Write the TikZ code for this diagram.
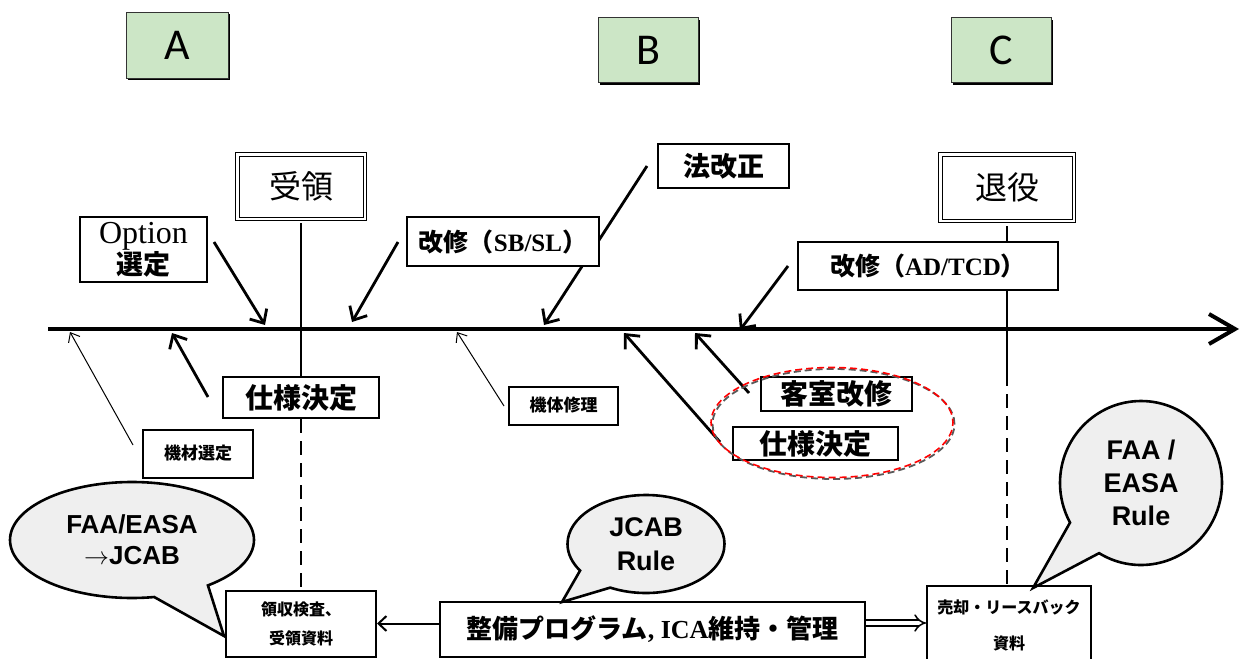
\documentclass[tikz,border=0pt]{standalone}
\usepackage{fontspec}
\setmainfont{Liberation Serif}
\newfontfamily\jpf{Noto Sans CJK JP}
\newfontfamily\arf{Liberation Sans}
\newfontfamily\lblf{Carlito}
\usetikzlibrary{arrows.meta,shapes.geometric,shapes.callouts,shadows}
\definecolor{boxgreen}{RGB}{204,230,198}
\definecolor{bubblegray}{RGB}{239,239,239}
\newcommand\fsz[2]{\fontsize{#1}{#2}\selectfont}
\begin{document}
\begin{tikzpicture}[x=1pt,y=-1pt,
  greenbox/.style={draw=black!80, line width=0.8pt, fill=boxgreen, inner sep=0pt,
    minimum width=100pt, minimum height=65pt, font=\lblf\fsz{44}{44},
    drop shadow={shadow xshift=2.2pt, shadow yshift=-2.2pt, opacity=1, fill=black}},
  dblbox/.style={draw, double, double distance=2.5pt, line width=1pt, fill=white, inner sep=0pt},
  thickbox/.style={draw, line width=2.6pt, fill=white, inner sep=0pt},
  midbox/.style={draw, line width=2pt, fill=white, inner sep=0pt},
  thinbox/.style={draw, line width=1.2pt, fill=white, inner sep=0pt},
  arr/.style={line width=2.8pt, -{Straight Barb[length=11pt,width=20pt]}},
  thinarr/.style={line width=1pt, -{Straight Barb[length=8pt,width=13pt]}},
  vline/.style={line width=2.6pt},
  dline/.style={line width=2.6pt, dash pattern=on 14pt off 8pt},
  bubble/.style={ellipse callout, draw, line width=2.6pt, fill=bubblegray, inner sep=0pt,
    align=center, font=\arf\bfseries},
]
\useasboundingbox (0,0) rectangle (1243,659);

% green header boxes
\node[greenbox, minimum width=102pt, minimum height=66pt] (A) at (177,45) {A};
\node[greenbox] (B) at (648,50) {B};
\node[greenbox] (C) at (1001,50) {C};

% axis
\coordinate (axL) at (48,329);
\coordinate (axR) at (1239,329);
\draw[line width=4pt, -{Straight Barb[length=26pt,width=30pt]}] (axL) -- (axR);

\coordinate (rv) at (1007,372);

% boxes joined by the vertical lines
\node[dblbox, minimum width=127.5pt, minimum height=64.5pt, font=\jpf\fsz{32}{32}] (recv) at (301,186.5) {受領};
\node[thickbox, minimum width=156pt, minimum height=41pt, font=\jpf\bfseries\fsz{28}{28}] (spec1) at (301,397.5) {仕様決定};
\node[midbox, minimum width=150pt, minimum height=66pt, align=center, font=\jpf\bfseries\fsz{16}{29}] (rcvdoc) at (301,624) {領収検査、\\受領資料};
\node[dblbox, minimum width=133.5pt, minimum height=66.5pt, font=\jpf\fsz{32}{32}] (retire) at (1007,187.5) {退役};
\node[midbox, minimum width=164pt, minimum height=78pt, align=center, font=\jpf\bfseries\fsz{16}{36}] (sale) at (1009,625) {売却・リースバック\\資料};

\draw[vline, shorten <=4pt] (recv.south) -- (spec1.north);
\draw[dline] (spec1.south) -- (rcvdoc.north);
\draw[vline, shorten <=5pt] (retire.south) -- (rv);
\draw[dline] (rv) -- (retire.south |- sale.north);

% arrows into the axis
\coordinate (o1) at (214,242);  \coordinate (o2) at (265,325);
\coordinate (s1) at (398,242);  \coordinate (s2) at (352,322);
\coordinate (l1) at (647,166);  \coordinate (l2) at (544,325);
\coordinate (d1) at (788,266);  \coordinate (d2) at (740,330);
\coordinate (k1) at (133,445);  \coordinate (k2) at (70,332);
\coordinate (p1) at (208,397);  \coordinate (p2) at (172,333);
\coordinate (m1) at (504,406);  \coordinate (m2) at (457,332);
\coordinate (q1) at (720,442);  \coordinate (q2) at (624,333);
\coordinate (c1) at (749,393);  \coordinate (c2) at (695,333);
\draw[arr] (o1) -- (o2);
\draw[arr] (s1) -- (s2);
\draw[arr] (l1) -- (l2);
\draw[arr] (d1) -- (d2);
\draw[thinarr] (k1) -- (k2);
\draw[arr] (p1) -- (p2);
\draw[thinarr] (m1) -- (m2);
\draw[arr] (q1) -- (q2);
\draw[arr] (c1) -- (c2);

% boxes again on top of the lines
\node[dblbox, minimum width=127.5pt, minimum height=64.5pt, font=\jpf\fsz{32}{32}] at (recv) {受領};
\node[thickbox, minimum width=156pt, minimum height=41pt, font=\jpf\bfseries\fsz{28}{28}] at (spec1) {仕様決定};
\node[dblbox, minimum width=133.5pt, minimum height=66.5pt, font=\jpf\fsz{32}{32}] at (retire) {退役};

\node[thickbox, minimum width=127pt, minimum height=65pt, align=center] (option) at (143.5,249.5)
  {{\rmfamily\fsz{32}{28}Option}\\{\jpf\bfseries\fsz{27}{27}選定}};
\node[thickbox, minimum width=192pt, minimum height=49pt] (sbsl) at (503,241.5)
  {{\jpf\bfseries\fsz{25}{25}改修（}{\rmfamily\bfseries\fsz{25}{25}SB/SL}{\jpf\bfseries\fsz{25}{25}）}};
\node[thickbox, minimum width=131pt, minimum height=44pt, font=\jpf\bfseries\fsz{27}{27}] (law) at (723.5,166) {法改正};
\node[thickbox, minimum width=260pt, minimum height=48pt] (adtcd) at (928,266)
  {{\jpf\bfseries\fsz{25}{25}改修（}{\rmfamily\bfseries\fsz{25}{25}AD/TCD}{\jpf\bfseries\fsz{25}{25}）}};

\node[thinbox, minimum width=110pt, minimum height=48pt, font=\jpf\bfseries\fsz{17}{17}] (kizai) at (198,454) {\raisebox{3pt}{機材選定}};
\node[thinbox, minimum width=109pt, minimum height=38pt, font=\jpf\bfseries\fsz{17}{17}] (kitai) at (563.5,406) {\raisebox{3pt}{機体修理}};

\node[thickbox, minimum width=151pt, minimum height=34pt, font=\jpf\bfseries\fsz{28}{28}] (cabin) at (836.5,394) {客室改修};
\node[thickbox, minimum width=165pt, minimum height=33pt, font=\jpf\bfseries\fsz{28}{28}] (spec2) at (815.5,443.5) {仕様決定};

% dashed group ellipse
\draw[black!65, line width=1.8pt, dash pattern=on 7pt off 4pt] (833.5,424) ellipse [x radius=121pt, y radius=55pt];
\draw[red, line width=1.6pt, dash pattern=on 7pt off 4pt, dash phase=3pt] (832,422.5) ellipse [x radius=121pt, y radius=55pt];

% program box and arrows
\node[thickbox, minimum width=425pt, minimum height=55pt] (prog) at (652.5,629.5)
  {{\jpf\bfseries\fsz{26}{26}整備プログラム}{\rmfamily\bfseries\fsz{26}{26}, ICA}{\jpf\bfseries\fsz{26}{26}維持・管理}};
\draw[line width=2pt, -{Straight Barb[length=8pt,width=15pt]}] (prog.west) ++(0,-6) -- (rcvdoc.east |- 0,623.5);
\draw[line width=1.5pt, double, double distance=4.5pt, -{Implies[length=9pt]}] (prog.east |- 0,623) -- (sale.west |- 0,623);

% speech bubbles
\node[bubble, minimum width=244pt, minimum height=116pt, callout absolute pointer={(224,636)},
  callout pointer arc=28, font=\arf\bfseries\fsz{26}{31}] (b1) at (132,540) {FAA/EASA\\{\normalfont$\rightarrow$}JCAB};
\node[bubble, minimum width=157pt, minimum height=98pt, callout absolute pointer={(562,602)},
  callout pointer arc=30, font=\arf\bfseries\fsz{27}{34}] (b2) at (646,544) {JCAB\\Rule};
\node[bubble, minimum width=162pt, minimum height=164pt, callout absolute pointer={(1033,588)},
  callout pointer arc=30, font=\arf\bfseries\fsz{27}{33}] (b3) at (1141,483) {FAA /\\EASA\\Rule};
\end{tikzpicture}
\end{document}
